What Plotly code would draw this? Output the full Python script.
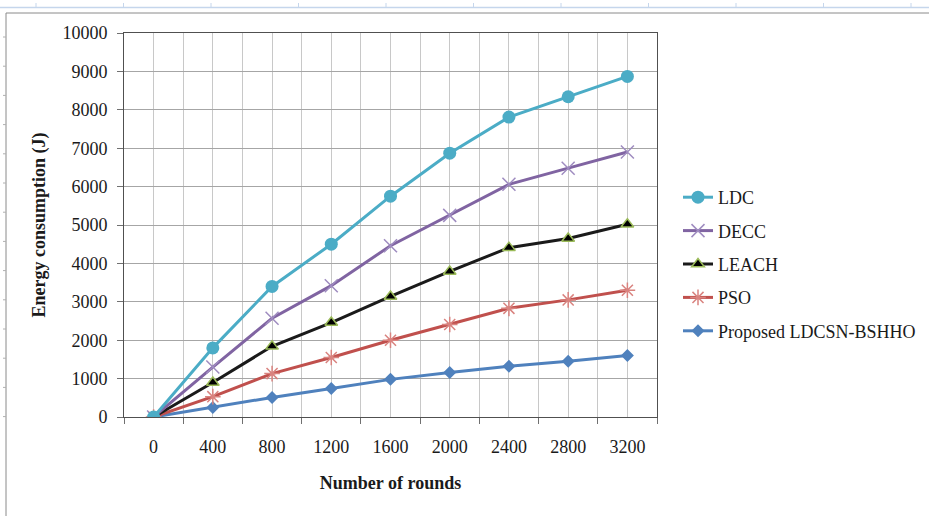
import plotly.graph_objects as go

rounds = [0, 400, 800, 1200, 1600, 2000, 2400, 2800, 3200]
ldc = [0, 1800, 3400, 4500, 5750, 6870, 7810, 8340, 8870]
decc = [0, 1300, 2570, 3420, 4460, 5250, 6060, 6480, 6900]
leach = [0, 900, 1840, 2460, 3140, 3790, 4410, 4650, 5020]
pso = [0, 530, 1130, 1550, 2000, 2410, 2830, 3050, 3300]
proposed = [0, 250, 510, 740, 980, 1160, 1320, 1450, 1600]

W, H = 929, 516
L, R, T, B = 124, 657, 33, 417

def px(x):
    return (x - L) / (R - L)

def py(y):
    return (B - y) / (B - T)

FONT = "Liberation Serif"
FS = 18

fig = go.Figure()

fig.add_trace(go.Scatter(
    x=rounds, y=proposed, name="Proposed LDCSN-BSHHO", mode="lines+markers",
    legendgroup="e", legendrank=5,
    line=dict(color="#4F81BD", width=3),
    marker=dict(symbol="diamond", size=10, color="#4F81BD")))
fig.add_trace(go.Scatter(
    x=rounds, y=pso, name="PSO", mode="lines+markers", legendgroup="d",
    legendrank=4,
    line=dict(color="#C0504D", width=3),
    marker=dict(symbol="asterisk", size=13, color="#D9837F",
                line=dict(color="#D9837F", width=1.5))))
fig.add_trace(go.Scatter(
    x=rounds, y=leach, name="LEACH", mode="lines+markers", legendgroup="c",
    legendrank=3,
    line=dict(color="#1a1a1a", width=3),
    marker=dict(symbol="triangle-up", size=11, color="#000000",
                line=dict(color="#9BBB59", width=1.5))))
fig.add_trace(go.Scatter(
    x=rounds, y=decc, name="DECC", mode="lines+markers", legendgroup="b",
    legendrank=2,
    line=dict(color="#8064A2", width=3),
    marker=dict(symbol="x-thin", size=13, color="#9F8CC0",
                line=dict(color="#9F8CC0", width=1.5))))
fig.add_trace(go.Scatter(
    x=rounds, y=ldc, name="LDC", mode="lines+markers", legendgroup="a",
    legendrank=1,
    line=dict(color="#4BACC6", width=3),
    marker=dict(symbol="circle", size=13, color="#4BACC6")))

shapes = []
# outer chart frame
shapes.append(dict(type="rect", xref="paper", yref="paper",
                   x0=px(6), x1=px(W + 20), y0=py(H + 20), y1=py(13),
                   line=dict(color="#8a8a8a", width=1), layer="below"))
# top ruler line
shapes.append(dict(type="line", xref="paper", yref="paper",
                   x0=px(0), x1=px(W), y0=py(7.5), y1=py(7.5),
                   line=dict(color="#c5d6ec", width=1.5)))
for i in range(11):
    xx = 36 + i * 87.5
    shapes.append(dict(type="line", xref="paper", yref="paper",
                       x0=px(xx), x1=px(xx), y0=py(7.5), y1=py(3),
                       line=dict(color="#c5d6ec", width=1)))
# left ruler ticks
for i in range(14):
    yy = 37 + i * 29.2
    shapes.append(dict(type="line", xref="paper", yref="paper",
                       x0=px(3), x1=px(6), y0=py(yy), y1=py(yy),
                       line=dict(color="#b0b0b0", width=1)))

fig.update_layout(
    width=W, height=H,
    margin=dict(l=L, r=W - R, t=T, b=H - B, autoexpand=False),
    paper_bgcolor="white", plot_bgcolor="white",
    font=dict(family=FONT, size=FS, color="#1a1a1a"),
    showlegend=True,
    legend=dict(x=px(678), y=py(264), xanchor="left", yanchor="middle",
                font=dict(family=FONT, size=FS, color="#1a1a1a"),
                tracegroupgap=7, itemwidth=30,
                bgcolor="rgba(0,0,0,0)"),
    shapes=shapes,
)

fig.update_xaxes(
    range=[-200, 3400], tickmode="array", tickvals=rounds,
    ticktext=[str(r) for r in rounds],
    ticks="", ticklabelstandoff=13,
    showgrid=True, gridcolor="#c8c8c8", gridwidth=1,
    minor=dict(tick0=-200, dtick=400, ticks="outside", ticklen=6,
               tickcolor="#707070", showgrid=True, gridcolor="#c8c8c8"),
    showline=True, linecolor="#505050", linewidth=1, mirror=True,
    zeroline=False,
    tickfont=dict(family=FONT, size=FS, color="#1a1a1a"),
    title=dict(text="<b>Number of rounds</b>", standoff=20,
               font=dict(family=FONT, size=FS, color="#1a1a1a")),
)
fig.update_yaxes(
    range=[0, 10000], dtick=1000, tick0=0, tickformat="d",
    ticks="outside", ticklen=6, tickcolor="#707070", ticklabelstandoff=6,
    showgrid=True, gridcolor="#a6a6a6", gridwidth=1,
    showline=True, linecolor="#505050", linewidth=1, mirror=True,
    zeroline=False,
    tickfont=dict(family=FONT, size=FS, color="#1a1a1a"),
    title=dict(text="<b>Energy consumption (J)</b>", standoff=12,
               font=dict(family=FONT, size=FS, color="#1a1a1a")),
)

fig.write_html("out.html")
